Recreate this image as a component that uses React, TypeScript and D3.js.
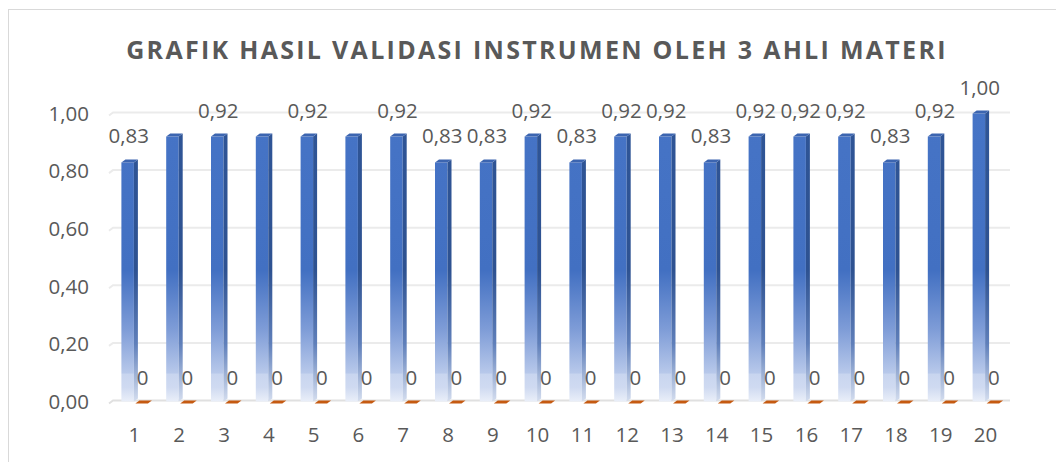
import { useEffect, useRef } from 'react';
import * as d3 from 'd3';

const categories = ['1', '2', '3', '4', '5', '6', '7', '8', '9', '10', '11', '12', '13', '14', '15', '16', '17', '18', '19', '20'];
const validasi = [0.83, 0.92, 0.92, 0.92, 0.92, 0.92, 0.92, 0.83, 0.83, 0.92, 0.83, 0.92, 0.92, 0.83, 0.92, 0.92, 0.92, 0.83, 0.92, 1.0];
const seriesB = [0, 0, 0, 0, 0, 0, 0, 0, 0, 0, 0, 0, 0, 0, 0, 0, 0, 0, 0, 0];
const hiddenLabels = ['2', '4', '6'];
const yTicks = [0, 0.2, 0.4, 0.6, 0.8, 1.0];
const title = 'GRAFIK HASIL VALIDASI INSTRUMEN OLEH 3 AHLI MATERI';

const fmt = (v: number) => v.toFixed(2).replace('.', ',');

export default function App() {
  const svgRef = useRef<SVGSVGElement>(null);

  useEffect(() => {
    if (!svgRef.current) return;
    const svg = d3.select(svgRef.current);
    svg.selectAll('*').remove();

    const font = "'Open Sans', sans-serif";
    const textCol = '#595959';
    const fs = 20.5;
    const x = d3.scaleBand().domain(categories).range([112, 1008]).padding(0);
    const y = d3.scaleLinear().domain([0, 1]).range([401.5, 113.5]);
    const dx = 4, dy = 3, bw = 12.5;

    const defs = svg.append('defs');
    const gf = defs.append('linearGradient').attr('id', 'gFront')
      .attr('gradientUnits', 'userSpaceOnUse').attr('x1', 0).attr('x2', 0).attr('y1', 110).attr('y2', 402);
    [[0, '#4674c6'], [0.55, '#4270c2'], [0.75, '#7e9cd7'], [0.9, '#b7c8ea'], [0.905, '#c8d5ef'], [0.95, '#cfdaf1'], [1, '#ebf0f9']]
      .forEach(([o, c]) => gf.append('stop').attr('offset', o as number).attr('stop-color', c as string));
    const gs = defs.append('linearGradient').attr('id', 'gSide')
      .attr('gradientUnits', 'userSpaceOnUse').attr('x1', 0).attr('x2', 0).attr('y1', 110).attr('y2', 402);
    [[0, '#2f5597'], [0.55, '#2e5291'], [0.8, '#5f7fba'], [1, '#d5deef']]
      .forEach(([o, c]) => gs.append('stop').attr('offset', o as number).attr('stop-color', c as string));

    // chart frame
    svg.append('rect').attr('x', 8.5).attr('y', 9.5).attr('width', 1100).attr('height', 600)
      .attr('fill', '#fff').attr('stroke', '#d9d9d9');

    svg.append('text').attr('x', 537).attr('y', 59).attr('text-anchor', 'middle')
      .attr('font-family', font).attr('font-weight', 700).attr('font-size', 25)
      .attr('letter-spacing', 2.3).attr('fill', textCol).text(title);

    // gridlines
    const [x0, x1] = x.range();
    yTicks.forEach(t => {
      const yy = y(t);
      svg.append('path')
        .attr('d', `M${x0 - 3},${yy + 2}L${x0 + 1},${yy - 1}L${x1 + 2},${yy - 1}`)
        .attr('fill', 'none').attr('stroke', t === 0 ? '#e0e0e0' : '#ebebeb').attr('stroke-width', 2);
      svg.append('text').attr('x', 89).attr('y', yy).attr('dy', '0.36em').attr('text-anchor', 'end')
        .attr('font-family', font).attr('font-size', fs).attr('fill', textCol).text(fmt(t));
    });

    categories.forEach((cat, i) => {
      const c = (x(cat) as number) + x.bandwidth() / 2;
      const v = validasi[i];
      const bx = c - 13;
      const top = y(v), base = y(0);
      const g = svg.append('g');
      g.append('rect').attr('x', bx).attr('y', top).attr('width', bw).attr('height', base - top).attr('fill', 'url(#gFront)');
      g.append('path')
        .attr('d', `M${bx + bw},${top}L${bx + bw + dx},${top - dy}L${bx + bw + dx},${base - dy}L${bx + bw},${base}Z`)
        .attr('fill', 'url(#gSide)');
      g.append('path')
        .attr('d', `M${bx},${top}L${bx + dx},${top - dy}L${bx + bw + dx},${top - dy}L${bx + bw},${top}Z`)
        .attr('fill', '#3c65b0');

      // second series (zero)
      const ox = c + 1;
      const oy = y(seriesB[i]) + 2;
      svg.append('path')
        .attr('d', `M${ox},${oy}L${ox + dx},${oy - dy}L${ox + bw + dx},${oy - dy}L${ox + bw},${oy}Z`)
        .attr('fill', '#c55a11');

      if (!hiddenLabels.includes(cat)) {
        svg.append('text').attr('x', bx + bw / 2 + 1).attr('y', top - 19).attr('text-anchor', 'middle')
          .attr('font-family', font).attr('font-size', fs).attr('fill', textCol).text(fmt(v));
      }
      svg.append('text').attr('x', ox + bw / 2 + 1).attr('y', base - 17).attr('text-anchor', 'middle')
        .attr('font-family', font).attr('font-size', fs).attr('fill', textCol).text(String(seriesB[i]));

      svg.append('text').attr('x', c).attr('y', 442).attr('text-anchor', 'middle')
        .attr('font-family', font).attr('font-size', fs).attr('fill', textCol).text(cat);
    });
  }, []);

  return (
    <svg ref={svgRef} width={1056} height={462}
      style={{ position: 'absolute', left: 0, top: 0, display: 'block' }} />
  );
}
